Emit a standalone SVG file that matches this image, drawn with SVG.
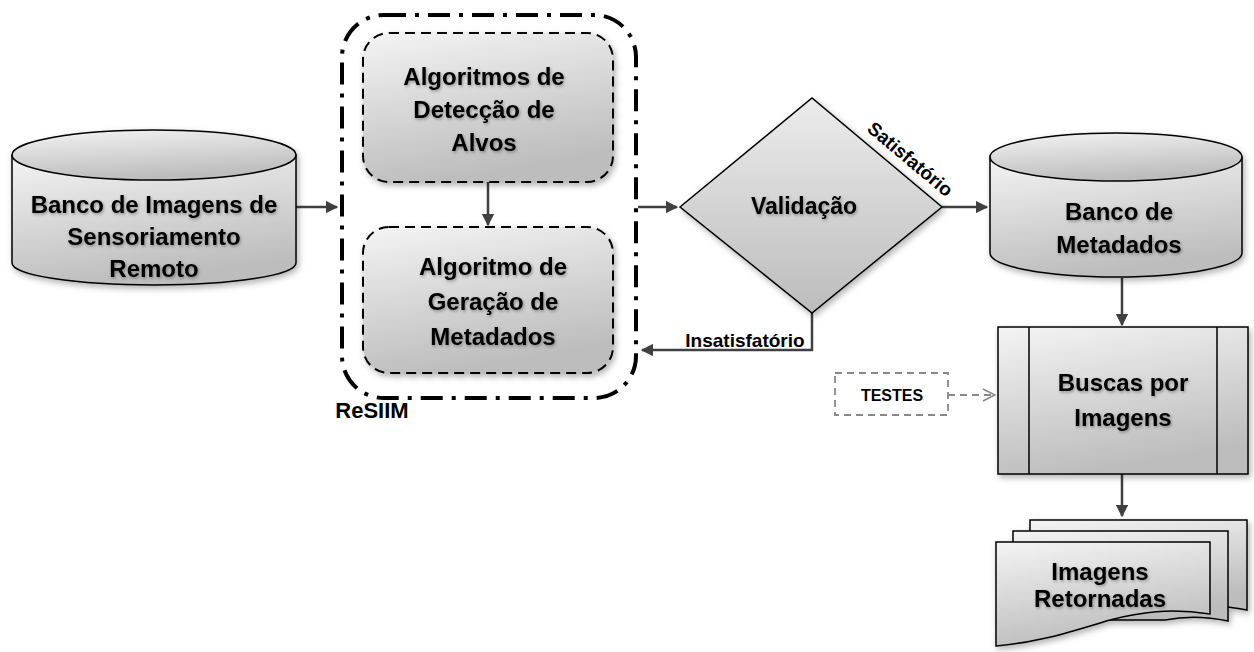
<svg xmlns="http://www.w3.org/2000/svg" width="1254" height="652" viewBox="0 0 1254 652">
<defs>
<linearGradient id="g" x1="0" y1="0" x2="0.3" y2="1">
<stop offset="0" stop-color="#f4f4f4"/>
<stop offset="1" stop-color="#bdbdbd"/>
</linearGradient>
<linearGradient id="gd" x1="0" y1="0" x2="0" y2="1">
<stop offset="0" stop-color="#ececec"/>
<stop offset="1" stop-color="#bcbcbc"/>
</linearGradient>
<filter id="sh" x="-10%" y="-10%" width="130%" height="130%">
<feDropShadow dx="2" dy="3" stdDeviation="3" flood-color="#000" flood-opacity="0.3"/>
</filter>
<filter id="ts" x="-10%" y="-30%" width="120%" height="160%">
<feDropShadow dx="1" dy="1.5" stdDeviation="1.5" flood-color="#000" flood-opacity="0.35"/>
</filter>
<marker id="ah" viewBox="0 0 10 10" refX="9" refY="5" markerWidth="5" markerHeight="5" orient="auto" markerUnits="strokeWidth">
<path d="M0,0 L10,5 L0,10 Z" fill="#404040"/>
</marker>
<marker id="oh" viewBox="0 0 12 12" refX="11" refY="6" markerWidth="8" markerHeight="8" orient="auto" markerUnits="strokeWidth">
<path d="M1,1 L11,6 L1,11" fill="none" stroke="#888" stroke-width="1.3"/>
</marker>
</defs>
<style>
.t{font-family:"Liberation Sans",Arial,sans-serif;font-weight:bold;fill:#000;text-anchor:middle;}
.big{font-size:24px;filter:url(#ts);}
.sm{font-size:19px;}
.ln{stroke:#404040;stroke-width:2.5;fill:none;}
.shape{fill:url(#g);stroke:#000;stroke-width:1.5;}
</style>

<g id="connectors">
<path class="ln" d="M296,207 H337" marker-end="url(#ah)"/>
<path class="ln" d="M488,182 V225" marker-end="url(#ah)"/>
<path class="ln" d="M638,207 H677" marker-end="url(#ah)"/>
<path class="ln" d="M942,207 H987" marker-end="url(#ah)"/>
<path class="ln" d="M812,313 V350 H642" marker-end="url(#ah)"/>
<path class="ln" d="M1122,278 V325" marker-end="url(#ah)"/>
<path class="ln" d="M1122,474 V516" marker-end="url(#ah)"/>
<path d="M948,395 H995" fill="none" stroke="#888" stroke-width="1.8" stroke-dasharray="7,5" marker-end="url(#oh)"/>
</g>

<g id="banco-imagens">
<g filter="url(#sh)">
<path class="shape" d="M12,155 V263 A142,22 0 0 0 296,263 V155 Z"/>
<ellipse class="shape" cx="154" cy="155" rx="142" ry="25"/>
</g>
<text class="t big" x="154" y="213">Banco de Imagens de</text>
<text class="t big" x="154" y="245">Sensoriamento</text>
<text class="t big" x="154" y="277">Remoto</text>
</g>

<g id="resiim">
<rect x="342" y="15" width="294" height="383" rx="42" fill="none" stroke="#000" stroke-width="4" stroke-dasharray="22,9,4,9"/>
<text class="t" x="372" y="418" style="font-size:22px">ReSIIM</text>
</g>

<g id="deteccao">
<rect x="363" y="33" width="250" height="149" rx="26" fill="url(#g)" stroke="#000" stroke-width="2" stroke-dasharray="10,6" filter="url(#sh)"/>
<text class="t big" x="484" y="85">Algoritmos de</text>
<text class="t big" x="484" y="118">Detecção de</text>
<text class="t big" x="484" y="151">Alvos</text>
</g>

<g id="geracao">
<rect x="363" y="227" width="250" height="146" rx="26" fill="url(#g)" stroke="#000" stroke-width="2" stroke-dasharray="10,6" filter="url(#sh)"/>
<text class="t big" x="493" y="275">Algoritmo de</text>
<text class="t big" x="493" y="310">Geração de</text>
<text class="t big" x="493" y="345">Metadados</text>
</g>

<g id="validacao">
<path d="M680,207 L812,98 L942,207 L812,313 Z" fill="url(#gd)" stroke="#000" stroke-width="1.5" filter="url(#sh)"/>
<text class="t big" x="804" y="214" style="font-size:23px">Validação</text>
<text class="t sm" transform="translate(906,164) rotate(40)" x="0" y="0">Satisfatório</text>
<text class="t sm" x="745" y="347">Insatisfatório</text>
</g>

<g id="banco-metadados">
<g filter="url(#sh)">
<path class="shape" d="M990,157 V253 A126,24 0 0 0 1242,253 V157 Z"/>
<ellipse class="shape" cx="1116" cy="157" rx="126" ry="24"/>
</g>
<text class="t big" x="1119" y="220">Banco de</text>
<text class="t big" x="1119" y="253">Metadados</text>
</g>

<g id="buscas">
<g filter="url(#sh)">
<rect class="shape" x="998" y="327" width="250" height="147" stroke-width="2"/>
</g>
<path d="M1029,327 V474 M1217,327 V474" stroke="#000" stroke-width="1.5"/>
<text class="t big" x="1123" y="391">Buscas por</text>
<text class="t big" x="1123" y="426">Imagens</text>
</g>

<g id="testes">
<rect x="835" y="373" width="113" height="42" fill="#fff" stroke="#888" stroke-width="1.8" stroke-dasharray="7,5"/>
<text class="t" x="892" y="401" style="font-size:16px">TESTES</text>
</g>

<g id="imagens-retornadas">
<g filter="url(#sh)">
<path d="M1030,520 H1247 V610 C1220,604 1200,606 1185,608 L1030,608 Z" fill="url(#g)" stroke="#000" stroke-width="1.5"/>
<path d="M1013,531 H1228 V621 C1200,615 1180,617 1165,620 L1013,620 Z" fill="url(#g)" stroke="#000" stroke-width="1.5"/>
<path d="M996,542 H1210 V614 C1170,608 1140,612 1110,620 C1070,632 1040,642 996,646 Z" fill="url(#g)" stroke="#000" stroke-width="1.5"/>
</g>
<text class="t big" x="1100" y="580">Imagens</text>
<text class="t big" x="1100" y="607">Retornadas</text>
</g>
</svg>
